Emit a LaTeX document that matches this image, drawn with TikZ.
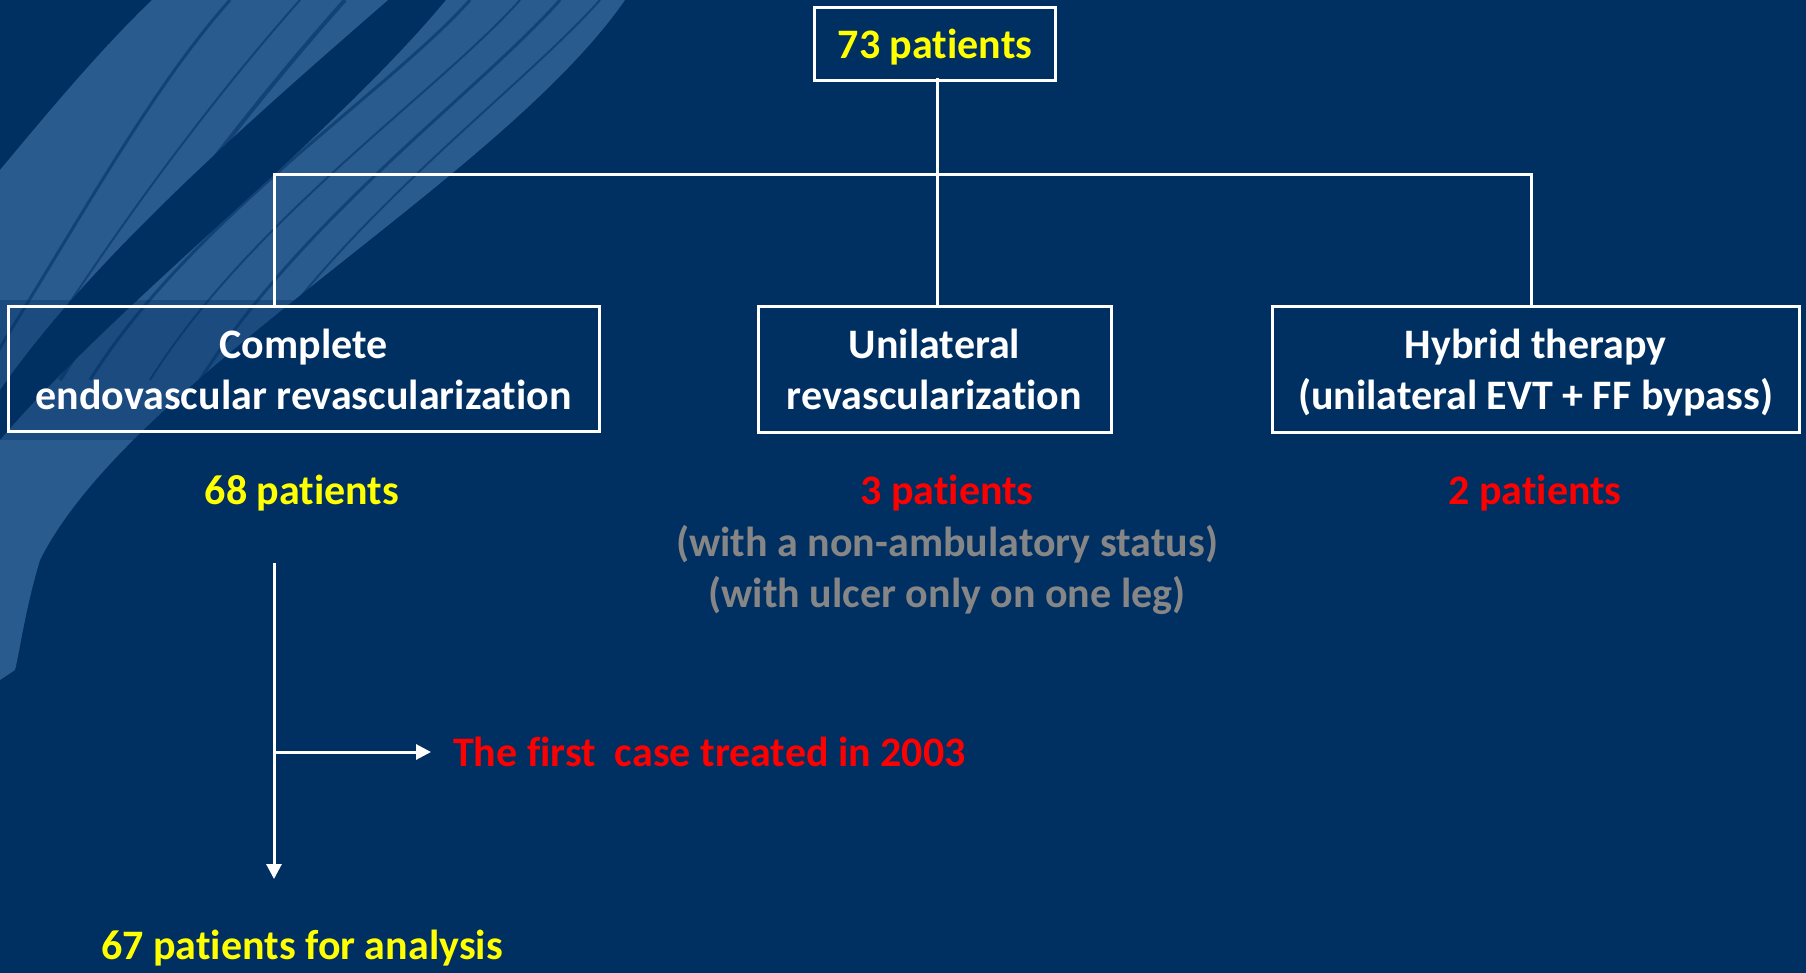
\documentclass[tikz,border=0pt]{standalone}
\usepackage{fontspec}
\setmainfont{Carlito}[Ligatures=NoCommon]
\usetikzlibrary{arrows.meta}
\definecolor{slideNavy}{HTML}{002F62}
\definecolor{slideBrush}{HTML}{2A5B8F}
\definecolor{noteYellow}{HTML}{FFFF00}
\definecolor{noteRed}{HTML}{FF0000}
\definecolor{noteGray}{HTML}{868686}
\tikzset{
    fbox/.style={draw=white, line width=3pt, inner sep=0pt, text depth=0pt, align=center, text=white},
    ftext/.style={inner sep=0pt, align=center},
    fline/.style={draw=white, line width=3pt},
    farrow/.style={fline, -{Triangle[length=15pt, width=15pt]}}
}

\begin{document}
\begin{tikzpicture}[x=1pt, y=-1pt, every node/.style={font=\fontsize{42}{51}\selectfont\bfseries}]
    % background and brush strokes
    \fill[slideNavy] (0,0) rectangle (1806,973);
    \useasboundingbox (0,0) rectangle (1806,973);
    \fill[slideBrush] (152,0) -- (388,0) .. controls (250,120) and (90,260) .. (0,390) -- (0,170) .. controls (50,110) and (100,50) .. cycle;
    \fill[slideBrush] (446,0) -- (625,0) .. controls (500,180) and (130,380) .. (40,560) .. controls (25,610) and (20,650) .. (15,670) -- (0,680) -- (0,440) .. controls (120,300) and (330,140) .. cycle;
    % streaks in the brush
    \foreach \a/\b/\w in {230/40/3, 300/80/2, 345/120/4, 470/150/3, 520/210/2, 560/260/3, 600/300/2}{
        \draw[slideNavy, opacity=0.55, line width=\w pt] (\a,0) .. controls (\a-80,90) and (\b+40,220) .. (\b-60,380);
    }
    \fill[slideNavy, opacity=0.35] (0,300) rectangle (600,440);

    % boxes
    \node[fbox, text=noteYellow, minimum width=241pt, minimum height=73pt] (total) at (935,44) {73 patients};
    \node[fbox, minimum width=591pt, minimum height=124pt] (complete) at (303.5,369) {Complete\\endovascular revascularization};
    \node[fbox, minimum width=353pt, minimum height=125pt] (unilat) at (934.5,369.5) {Unilateral\\revascularization};
    \node[fbox, minimum width=527pt, minimum height=125pt] (hybrid) at (1535.5,369.5) {Hybrid therapy\\(unilateral EVT + FF bypass)};

    % counts
    \node[ftext, text=noteYellow] (n68) at (302,493) {68 patients};
    \node[ftext, text=noteRed] (n3) at (947,493) {3 patients};
    \node[ftext, text=noteGray] (nonamb) at (947,544) {(with a non-ambulatory status)};
    \node[ftext, text=noteGray] (ulcer) at (947,595) {(with ulcer only on one leg)};
    \node[ftext, text=noteRed] (n2) at (1535,493) {2 patients};
    \node[ftext, text=noteRed, anchor=west] (first) at (453,752) {The first~~case treated in 2003};
    \node[ftext, text=noteYellow] (n67) at (302,948) {67 patients for analysis};

    % connectors
    \coordinate (split) at (937,175);
    \coordinate (barL) at (274,175);
    \coordinate (barR) at (1531,175);
    \draw[fline] ([yshift=4pt]total.south -| split) -- (split);
    \draw[fline] (complete.north -| barL) -- (barL) -- (barR) -- (hybrid.north -| barR);
    \draw[fline] (split) -- (unilat.north -| split);
    \coordinate (down) at (274,563);
    \coordinate (branch) at (274,752);
    \coordinate (downEnd) at (274,879);
    \draw[farrow] (down) -- (downEnd);
    \draw[farrow] (branch) -- ([xshift=-22pt]first.west);
\end{tikzpicture}
\end{document}
